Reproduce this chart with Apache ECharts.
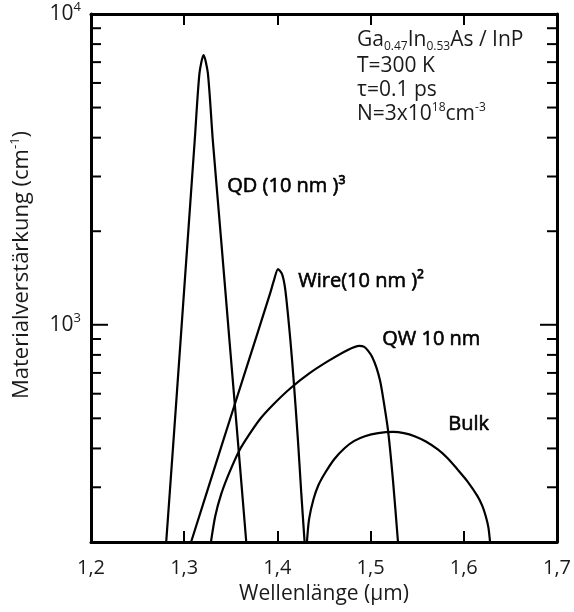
<!DOCTYPE html>
<html><head><meta charset="utf-8">
<script src="https://cdn.jsdelivr.net/npm/echarts@6/dist/echarts.min.js"></script>
<style>html,body{margin:0;padding:0;background:#fff}#c{width:574px;height:612px}</style>
</head><body><div id="c"></div>
<script>
// ---- data ----
const xMin = 1.2, xMax = 1.7, xStep = 0.1;
const yMin = 200, yMax = 10000;
const xTickLabels = ['1,2','1,3','1,4','1,5','1,6','1,7'];
const yMinorTicks = [300,400,500,600,700,800,900,2000,3000,4000,5000,6000,7000,8000,9000];
const yMajorTicks = [1000];

const qdX = [1.2807,1.2885,1.2961,1.3037,1.3113,1.3164,1.3208,1.3254,1.3307,1.3397,1.3486,1.3576,1.3666];
const qdY = [200,423,888,1866,3923,6450,7377,6450,3923,1866,888,423,200];

const wireX = [1.3074,1.3393,1.3647,1.3921,1.3962,1.4007,1.4052,1.4086,1.4140,1.4175,1.4221,1.4257,1.4292];
const wireY = [200,401,695,1259,1387,1512,1450,1287,888,660,423,285,200];

const qwX = [1.3287,1.3333,1.3397,1.3482,1.3588,1.3695,1.3823,1.3972,1.4143,1.4335,1.4548,1.4761,1.4878,1.4932,1.4974,1.5017,1.5063,1.5102,1.5134,1.5188,1.5241,1.5294];
const qwY = [200,242,285,333,392,442,501,560,626,695,765,831,855,849,824,788,728,660,583,455,314,200];

const bulkX = [1.4317,1.4340,1.4388,1.4441,1.4513,1.4612,1.4726,1.4825,1.4939,1.5081,1.5241,1.5358,1.5472,1.5593,1.5721,1.5827,1.5934,1.6041,1.6147,1.6200,1.6236,1.6264,1.6282];
const bulkY = [200,237,275,305,334,370,402,423,438,448,452,448,438,421,397,372,342,313,281,261,242,223,200];

// ---- chart ----
const zip = (xs, ys) => xs.map((x, i) => [x, ys[i]]);
const FONT = '"Open Sans", "Noto Sans", sans-serif';
const TXT = '#1a1a1a';

function curve(name, xs, ys) {
  return {
    name, type: 'line', data: zip(xs, ys), xAxisIndex: 0, yAxisIndex: 0,
    showSymbol: false, symbol: 'none', smooth: 0.25, clip: true,
    lineStyle: { color: '#000', width: 2.2 }, silent: true, z: 3
  };
}

const tickData = yMinorTicks.map(v => [xMin, v, 0]).concat(yMajorTicks.map(v => [xMin, v, 1]));

const chart = echarts.init(document.getElementById('c'), null, { renderer: 'canvas' });
chart.setOption({
  animation: false,
  backgroundColor: '#fff',
  grid: { left: 91, right: 14, top: 14, bottom: 70 },
  xAxis: [
    {
      type: 'value', min: xMin, max: xMax, interval: xStep, position: 'bottom',
      axisLine: { show: true, lineStyle: { color: '#000', width: 3 } },
      axisTick: { show: true, inside: true, length: 11, lineStyle: { color: '#000', width: 2 } },
      splitLine: { show: false },
      axisLabel: {
        margin: 16, fontSize: 20, fontFamily: FONT, color: TXT,
        formatter: v => xTickLabels[Math.round((v - xMin) / xStep)] || ''
      },
      name: 'Wellenlänge (µm)', nameLocation: 'middle', nameGap: 42,
      nameTextStyle: { fontSize: 21, fontFamily: FONT, color: TXT }
    },
    {
      type: 'value', min: xMin, max: xMax, interval: xStep, position: 'top',
      axisLine: { show: true, lineStyle: { color: '#000', width: 3 } },
      axisTick: { show: true, inside: true, length: 11, lineStyle: { color: '#000', width: 2 } },
      splitLine: { show: false }, axisLabel: { show: false }
    }
  ],
  yAxis: [
    {
      type: 'log', logBase: 10, min: yMin, max: yMax, position: 'left',
      axisLine: { show: true, lineStyle: { color: '#000', width: 3 } },
      axisTick: { show: false }, splitLine: { show: false }, minorTick: { show: false },
      axisLabel: {
        margin: 10, fontFamily: FONT, color: TXT,
        formatter: v => {
          const e = Math.log10(v);
          if (Math.abs(e - Math.round(e)) < 1e-6 && Math.round(e) >= 3) return '10{sup|' + Math.round(e) + '}';
          return '';
        },
        rich: {
          sup: { fontSize: 13, lineHeight: 13, verticalAlign: 'top', fontFamily: FONT, color: TXT }
        },
        fontSize: 21, lineHeight: 26
      },
      name: 'Materialverstärkung (cm{sup|-1})', nameLocation: 'middle', nameGap: 56,
      nameTextStyle: {
        fontSize: 22, fontFamily: FONT, color: TXT, lineHeight: 26, padding: [0, 0, 0, 26],
        rich: { sup: { fontSize: 13, lineHeight: 13, verticalAlign: 'top', fontFamily: FONT, color: TXT } }
      }
    },
    {
      type: 'log', logBase: 10, min: yMin, max: yMax, position: 'right',
      axisLine: { show: true, lineStyle: { color: '#000', width: 3 } },
      axisTick: { show: false }, splitLine: { show: false }, axisLabel: { show: false }
    }
  ],
  series: [
    curve('QD', qdX, qdY),
    curve('Wire', wireX, wireY),
    curve('QW', qwX, qwY),
    curve('Bulk', bulkX, bulkY),
    {
      type: 'custom', name: 'yticks', data: tickData, xAxisIndex: 0, yAxisIndex: 0,
      encode: { x: 0, y: 1 }, silent: true, z: 5,
      renderItem: function (params, api) {
        const cs = params.coordSys;
        const y = api.coord([api.value(0), api.value(1)])[1];
        const len = api.value(2) === 1 ? 17 : 10;
        const st = { stroke: '#000', lineWidth: 2 };
        return { type: 'group', children: [
          { type: 'line', shape: { x1: cs.x, y1: y, x2: cs.x + len, y2: y }, style: st },
          { type: 'line', shape: { x1: cs.x + cs.width, y1: y, x2: cs.x + cs.width - len, y2: y }, style: st }
        ] };
      }
    }
  ],
  graphic: [
    { type: 'text', left: 357, top: 28, style: {
      text: 'Ga{sub|0.47}In{sub|0.53}As / InP', font: '21px ' + FONT, fill: TXT, lineHeight: 25,
      rich: { sub: { fontSize: 12, lineHeight: 12, verticalAlign: 'bottom', fontFamily: FONT, fill: TXT } } } },
    { type: 'text', left: 357, top: 56, style: { text: 'T=300 K', font: '21px ' + FONT, fill: TXT } },
    { type: 'text', left: 357, top: 80, style: { text: 'τ=0.1 ps', font: '21px ' + FONT, fill: TXT } },
    { type: 'text', left: 357, top: 102, style: {
      text: 'N=3x10{sup|18}cm{sup|-3}', font: '21px ' + FONT, fill: TXT, lineHeight: 25,
      rich: { sup: { fontSize: 12, lineHeight: 12, verticalAlign: 'top', fontFamily: FONT, fill: TXT } } } },
    { type: 'text', left: 227, top: 176, style: { text: 'QD (10 nm )³', font: '20px ' + FONT, fill: '#000', stroke: '#000', lineWidth: 0.6 } },
    { type: 'text', left: 298, top: 271, style: { text: 'Wire(10 nm )²', font: '20px ' + FONT, fill: '#000', stroke: '#000', lineWidth: 0.6 } },
    { type: 'text', left: 382, top: 329, style: { text: 'QW 10 nm', font: '20px ' + FONT, fill: '#000', stroke: '#000', lineWidth: 0.6 } },
    { type: 'text', left: 448, top: 414, style: { text: 'Bulk', font: '20px ' + FONT, fill: '#000', stroke: '#000', lineWidth: 0.6 } }
  ]
});
</script></body></html>
